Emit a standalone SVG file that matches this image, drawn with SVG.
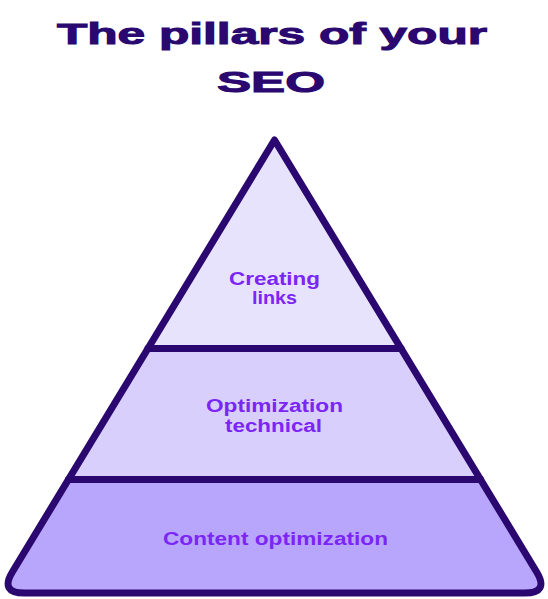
<svg xmlns="http://www.w3.org/2000/svg" width="548" height="599" viewBox="0 0 548 599">
<style>
.title{font-family:"Liberation Sans",Arial,sans-serif;font-weight:bold;font-size:29px;fill:#2a0870;stroke:#2a0870;stroke-width:1;text-anchor:middle}
.lbl{font-family:"Liberation Sans",Arial,sans-serif;font-weight:bold;font-size:18px;fill:#7b25f6;text-anchor:middle}
.edge{stroke:#2a0870;stroke-width:7;fill:none;stroke-linejoin:round;stroke-linecap:round}
</style>
<rect width="548" height="599" fill="#ffffff"/>
<g id="title">
<text class="title" x="272" y="44" textLength="430" lengthAdjust="spacingAndGlyphs">The pillars of your</text>
<text class="title" x="271" y="92" textLength="108" lengthAdjust="spacingAndGlyphs">SEO</text>
</g>
<g id="tier-top">
<polygon points="274.5,140 401.1,348.5 147.9,348.5" fill="#e8e3fc"/>
<text class="lbl" x="274.5" y="285" textLength="91" lengthAdjust="spacingAndGlyphs">Creating</text>
<text class="lbl" x="274.5" y="304" textLength="45" lengthAdjust="spacingAndGlyphs">links</text>
</g>
<g id="tier-middle">
<polygon points="147.9,348.5 401.1,348.5 480.6,479.5 68.4,479.5" fill="#d9cffd"/>
<text class="lbl" x="274.5" y="412" textLength="137" lengthAdjust="spacingAndGlyphs">Optimization</text>
<text class="lbl" x="273.5" y="432" textLength="97" lengthAdjust="spacingAndGlyphs">technical</text>
</g>
<g id="tier-bottom">
<path d="M68.4,479.5 L480.6,479.5 L536.5,571.7 Q549.5,593 524.5,593 L24.5,593 Q-0.5,593 12.5,571.7 Z" fill="#b8a6fc"/>
<text class="lbl" x="275.5" y="545" textLength="225" lengthAdjust="spacingAndGlyphs">Content optimization</text>
</g>
<g id="connectors">
<path class="edge" d="M274.5,140 L536.5,571.7 Q549.5,593 524.5,593 L24.5,593 Q-0.5,593 12.5,571.7 Z"/>
<line class="edge" x1="147.9" y1="348.5" x2="401.1" y2="348.5" stroke-linecap="butt"/>
<line class="edge" x1="68.4" y1="479.5" x2="480.6" y2="479.5" stroke-linecap="butt"/>
</g>
</svg>
